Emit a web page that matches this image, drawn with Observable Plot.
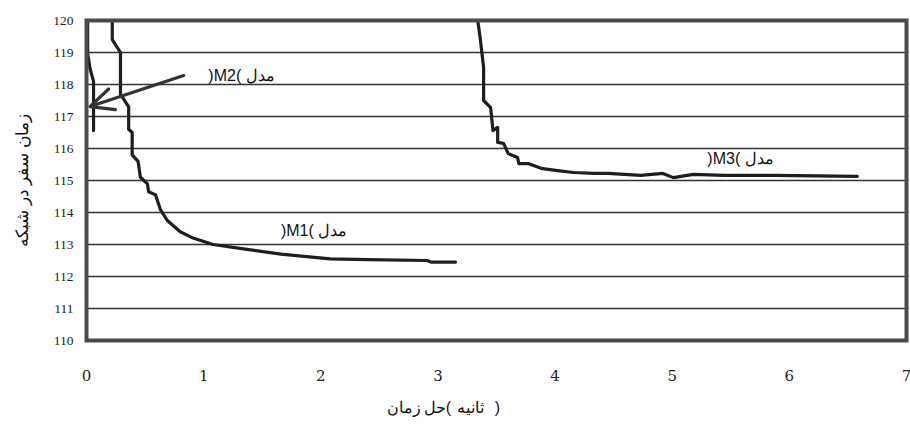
<!DOCTYPE html>
<html>
<head>
<meta charset="utf-8">
<script src="https://cdn.jsdelivr.net/npm/d3@7"></script>
<script src="https://cdn.jsdelivr.net/npm/@observablehq/plot@0.6"></script>
<style>
  html, body { margin: 0; padding: 0; background: #fff; }
  #chart svg { display: block; }
</style>
</head>
<body>
<div id="chart"></div>
<script>
// ---- data ----
const m1X = [0.22, 0.22, 0.29, 0.29, 0.36, 0.36, 0.39, 0.39, 0.44, 0.46, 0.52, 0.53, 0.59, 0.63, 0.69, 0.80, 0.91, 1.08, 1.37, 1.66, 2.08, 2.40, 2.91, 2.94, 3.15];
const m1Y = [120, 119.4, 119.0, 117.7, 117.3, 116.6, 116.5, 115.8, 115.6, 115.1, 114.9, 114.65, 114.55, 114.1, 113.75, 113.4, 113.2, 113.0, 112.85, 112.7, 112.55, 112.53, 112.5, 112.45, 112.45];

const m2X = [0.01, 0.01, 0.03, 0.06, 0.06];
const m2Y = [120, 118.97, 118.5, 118.1, 116.56];

const m3X = [3.34, 3.36, 3.39, 3.39, 3.45, 3.47, 3.51, 3.51, 3.56, 3.60, 3.68, 3.69, 3.77, 3.88, 4.02, 4.16, 4.33, 4.45, 4.73, 4.92, 5.01, 5.18, 5.44, 5.87, 6.58];
const m3Y = [120, 119.47, 118.53, 117.5, 117.28, 116.56, 116.66, 116.19, 116.16, 115.84, 115.72, 115.53, 115.53, 115.38, 115.31, 115.25, 115.22, 115.22, 115.16, 115.22, 115.09, 115.19, 115.16, 115.16, 115.13];

const xTicks = [0, 1, 2, 3, 4, 5, 6, 7];
const yTicks = [110, 111, 112, 113, 114, 115, 116, 117, 118, 119, 120];
const gridY = [111, 112, 113, 114, 115, 116, 117, 118, 119];

const labelText = ["\u200E)M1(\u00a0مدل", "\u200E)M2(\u00a0مدل", "\u200E)M3(\u00a0مدل"];
const labelX = [1.66, 1.04, 5.30];
const labelY = [113.44, 118.28, 115.69];

const arrowFrom = [0.83, 118.28];
const arrowTo = [0.03, 117.31];

// x title pieces; a lone bracket is drawn mirrored here, so "(" shows as ")"
const xTitleParts = ["زمان", "حل", "(", "ثانیه", ")"];
const xTitleShift = [-93, -62, -48, -26, 1];
const yTitle = "زمان سفر در شبکه";

// ---- tables built from the arrays ----
const series = [
  ...m1X.map((x, i) => ({model: "M1", x, y: m1Y[i]})),
  ...m2X.map((x, i) => ({model: "M2", x, y: m2Y[i]})),
  ...m3X.map((x, i) => ({model: "M3", x, y: m3Y[i]}))
];
const labels = labelText.map((t, i) => ({t, x: labelX[i], y: labelY[i]}));

const sans = "Liberation Sans";

const chart = Plot.plot({
  width: 910,
  height: 433,
  marginLeft: 86,
  marginRight: 4,
  marginTop: 20,
  marginBottom: 93,
  style: {background: "#fff", color: "#222"},
  x: {domain: [0, 7]},
  y: {domain: [110, 120]},
  marks: [
    Plot.ruleY(gridY, {stroke: "#333", strokeWidth: 1.3}),
    Plot.axisX(xTicks, {tickSize: 0, tickPadding: 30, fontSize: 15, fontFamily: "DejaVu Serif", tickFormat: d3.format("d"), label: null}),
    Plot.axisY(yTicks, {tickSize: 0, tickPadding: 13, fontSize: 13.5, fontFamily: "Times New Roman", tickFormat: d3.format("d"), label: null}),
    Plot.line(series, {x: "x", y: "y", z: "model", stroke: "#1e1e1e", strokeWidth: 3.2, strokeLinejoin: "round"}),
    Plot.arrow([0], {
      x1: () => arrowFrom[0], y1: () => arrowFrom[1],
      x2: () => arrowTo[0], y2: () => arrowTo[1],
      stroke: "#333", strokeWidth: 3.2, headLength: 12, headAngle: 50
    }),
    Plot.text(labels, {x: "x", y: "y", text: "t", textAnchor: "start", fontSize: 16, fontFamily: sans, fill: "#111"}),
    Plot.frame({stroke: "#4a4a4a", strokeWidth: 4}),
    Plot.text([yTitle], {frameAnchor: "left", textAnchor: "middle", dx: -64, dy: 0, rotate: -90, fontSize: 17, fontFamily: sans, fill: "#111"}),
    ...xTitleParts.map((p, i) =>
      Plot.text([p], {frameAnchor: "bottom", textAnchor: "middle", dx: xTitleShift[i], dy: 72, fontSize: 16, fontFamily: sans, fill: "#111"})
    )
  ]
});
document.getElementById("chart").appendChild(chart);
</script>
</body>
</html>
